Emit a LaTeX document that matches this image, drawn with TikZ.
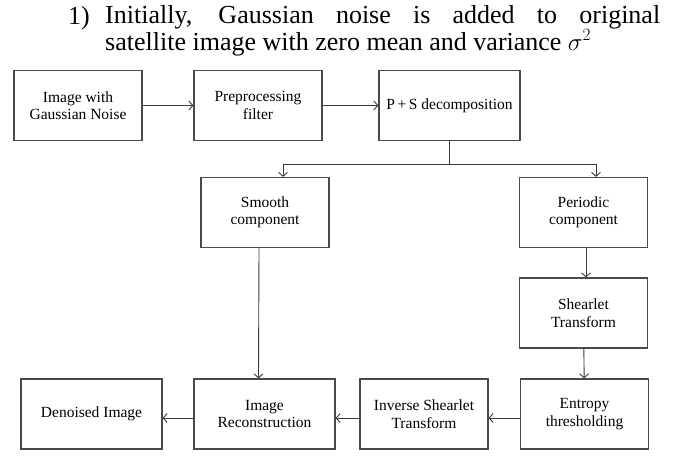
\documentclass[tikz,border=0pt]{standalone}
\usepackage{fontspec}
\setmainfont{Liberation Serif}
\usepackage{tikz}
\usetikzlibrary{arrows.meta,positioning,calc}
\definecolor{flink}{HTML}{3A3A3A}
\definecolor{flline}{HTML}{4A4A4A}
\tikzset{
  bx/.style={align=center, font=\fontsize{15.5}{17.5}\selectfont, inner sep=2pt},
  blk/.style={bx, draw=flline, line width=1.2pt, fill=white},
  arr/.style={-{Straight Barb[length=4pt, width=9pt]}, line width=0.9pt, color=flink},
  ln/.style={line width=0.9pt, color=flink},
}

\begin{document}
\begin{tikzpicture}[x=1pt, y=-1pt, wd/.style={blk, minimum width=128pt, minimum height=70pt}, ww/.style={blk, minimum width=141pt, minimum height=70pt}]
    \useasboundingbox (0,0) rectangle (687,455);
    % heading
    \node[anchor=base west, font=\fontsize{26}{25}\selectfont, inner sep=0pt] (num) at (68,24) {1)};
    \node[anchor=north west, text width=555pt, align=justify, font=\fontsize{26}{25}\selectfont, inner sep=0pt] (cap) at (105,5)
      {Initially, Gaussian noise is added to original\linebreak satellite image with zero mean and variance $\sigma^2$};
    % row 1
    \node[wd] (noisy) at (78,105.5) {Image with\\Gaussian Noise};
    \node[wd] (prefilt) at (258,105.5) {Preprocessing\\filter};
    \node[ww] (psdec) at (449.5,105.5) {P\,+\,S decomposition};
    % row 2
    \node[wd] (smooth) at (265,212.5) {Smooth\\component};
    \node[wd] (periodic) at (583.5,212.5) {Periodic\\component};
    % row 3
    \node[wd] (shear) at (583.5,313) {Shearlet\\Transform};
    % row 4 (right to left)
    \node[wd] (entropy) at (584.5,414) {Entropy\\thresholding};
    \node[wd] (invshear) at (424,414) {Inverse Shearlet\\Transform};
    \node[ww] (recon) at (264.5,414) {Image\\Reconstruction};
    \node[ww] (denoised) at (91.5,414) {Denoised Image};
    % split below P+S
    \coordinate (brL) at (283,164);
    \coordinate (brR) at (596,164);
    \foreach \a/\b in {noisy/prefilt,prefilt/psdec} \draw[arr] (\a) -- (\b);
    \draw[arr] (psdec.south) |- (brL) -- (brL |- smooth.north);
    \draw[arr] (psdec.south) |- (brR) -- (brR |- periodic.north);
    \draw[arr] ([xshift=2.5pt]periodic.south) -- ([xshift=2.5pt]shear.north);
    \draw[arr] (shear) -- (entropy);
    \draw[arr] ([xshift=-6pt]smooth.south) -- ([xshift=-6pt]recon.north);
    \foreach \a/\b in {entropy/invshear,invshear/recon,recon/denoised} \draw[arr] ([yshift=-4pt]\a.west) -- ([yshift=-4pt]\b.east);
  \end{tikzpicture}
\end{document}
